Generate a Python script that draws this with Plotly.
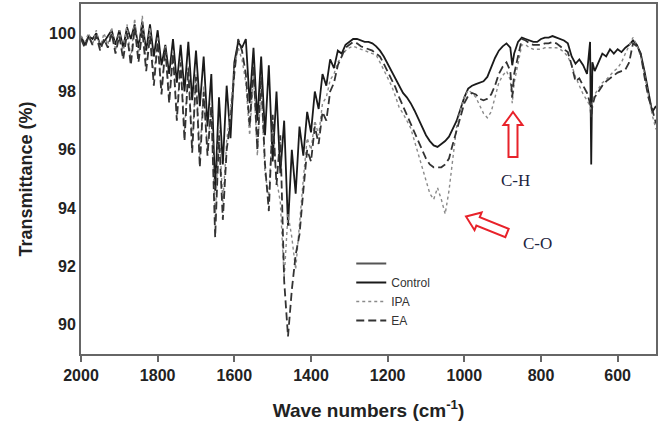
import plotly.graph_objects as go

# ---------------- data ----------------
wavenumber = (list(range(2000, 885, -10)) + [880, 875, 870] +
              list(range(860, 675, -10)) + [672, 669, 666] +
              list(range(660, 495, -10)))

control = [
    99.9, 99.6, 99.9, 99.8, 100.0, 99.6, 99.7, 99.9, 100.1, 99.6,
    100.1, 99.5, 100.2, 99.8, 100.3, 99.5, 100.4, 99.4, 100.3, 99.2,
    100.1, 98.9, 99.6, 98.6, 99.8, 98.3, 99.6, 98.0, 99.7, 97.7,
    99.4, 97.5, 99.2, 96.8, 98.6, 94.6, 97.8, 95.5, 98.2, 96.4,
    99.0, 99.7, 99.5, 99.8, 97.6, 99.5, 97.0, 99.2, 96.5, 98.9,
    95.6, 98.0, 95.2, 97.0, 93.4, 96.0, 94.5, 96.8, 95.8, 97.3,
    96.6, 98.0, 97.4, 98.6, 98.2, 99.1, 98.8, 99.4, 99.3, 99.6,
    99.7,
    99.8, 99.8, 99.75, 99.7, 99.7, 99.65, 99.55, 99.4, 99.2, 98.95,
    98.7, 98.45, 98.15, 97.95, 97.8, 97.6, 97.35, 97.05, 96.8, 96.5,
    96.3, 96.15, 96.1, 96.2, 96.3, 96.45, 96.7, 97.0, 97.4, 97.8,
    98.1, 98.2, 98.25, 98.3, 98.35, 98.5, 98.85, 99.15, 99.4, 99.55,
    99.65,
    99.5, 98.9, 99.3,
    99.7, 99.85, 99.8, 99.75, 99.7, 99.7, 99.8, 99.85, 99.85, 99.9,
    99.85, 99.8, 99.75, 99.65, 99.2, 98.95, 99.1, 98.9, 98.6,
    99.7, 95.5, 99.0,
    98.7, 99.0, 99.3, 99.2, 99.45, 99.3, 99.45, 99.35, 99.5, 99.6,
    99.75, 99.6, 99.3, 98.7, 98.0, 97.3, 97.5,
]

ipa = [
    99.9, 99.7, 100.0, 99.6, 100.1, 99.5, 100.0, 99.6, 100.2, 99.4,
    100.1, 99.3, 100.3, 99.1, 100.5, 99.2, 100.6, 98.9, 100.2, 98.5,
    99.9, 98.0, 99.6, 97.8, 99.4, 97.2, 99.1, 96.6, 98.9, 96.2,
    98.6, 95.8, 98.2, 96.0, 97.6, 93.6, 96.8, 94.2, 96.3, 97.4,
    98.8, 99.5, 99.1, 98.3, 96.5, 98.6, 95.8, 98.2, 95.2, 94.4,
    97.0, 95.0, 94.2, 91.6, 93.8, 93.0, 91.9, 93.6, 95.0, 96.4,
    96.0, 97.0, 96.5, 97.6, 97.8, 98.4, 98.6, 99.0, 99.2, 99.4,
    99.5,
    99.55, 99.5, 99.45, 99.4, 99.35, 99.3, 99.25, 99.0, 98.75, 98.5,
    98.2, 97.85, 97.45, 97.25, 97.0, 96.75, 96.3, 95.85, 95.4, 94.9,
    94.5, 94.3, 94.7, 94.3, 93.8, 94.6, 95.8, 96.8, 97.4, 97.8,
    98.05, 97.95, 97.8, 97.5, 97.25, 97.1, 97.3, 97.8, 98.3, 98.55,
    98.7,
    98.4, 97.6, 98.3,
    98.9, 99.6, 99.6, 99.5, 99.45, 99.45, 99.45, 99.5, 99.5, 99.5,
    99.5, 99.45, 99.35, 99.2, 98.9, 98.5, 98.2, 97.9, 97.7,
    97.5, 97.3, 97.6,
    97.9, 98.1, 98.3, 98.4, 98.55, 98.7, 98.8, 99.0, 99.3, 99.6,
    99.85, 99.6, 99.2, 98.6, 97.9, 97.2, 96.7,
]

ea = [
    99.8, 99.5, 99.9, 99.6, 99.9, 99.4, 99.8, 99.5, 100.0, 99.3,
    99.9, 99.1, 100.0, 98.9, 100.2, 99.0, 100.1, 98.7, 99.9, 98.2,
    99.7, 97.9, 99.5, 97.6, 99.3, 97.0, 99.0, 96.3, 98.8, 95.9,
    98.5, 95.4, 98.0, 95.8, 97.5, 93.0, 96.5, 93.6, 96.0, 97.0,
    98.6, 99.8, 99.4, 98.6, 96.8, 98.9, 96.0, 98.5, 95.5, 93.9,
    97.2, 94.8, 96.5, 91.5, 89.6, 91.2, 92.4, 93.1, 94.6, 96.0,
    95.6, 96.8, 96.2, 97.3, 97.0, 98.0, 98.3, 98.9, 99.2, 99.5,
    99.6,
    99.7, 99.65, 99.55, 99.5, 99.45, 99.4, 99.3, 99.2, 98.95, 98.7,
    98.4, 98.15, 97.8, 97.5, 97.2, 96.9, 96.6, 96.25, 95.95, 95.7,
    95.5, 95.4, 95.4, 95.4, 95.5, 95.7, 96.2, 96.7, 97.2, 97.6,
    97.85, 97.95, 97.9, 97.75, 97.7, 97.75, 97.9, 98.2, 98.6, 98.85,
    99.0,
    98.7, 97.8, 98.6,
    99.2, 99.8, 99.75, 99.65, 99.6, 99.6, 99.6, 99.65, 99.65, 99.7,
    99.65, 99.55, 99.45, 99.35, 98.9, 98.35, 98.45, 98.2, 97.95,
    97.6, 97.1, 97.5,
    97.8, 98.0, 98.2, 98.35, 98.45, 98.55, 98.65, 98.7, 98.75, 99.0,
    99.65, 99.55, 99.3, 98.5, 97.8, 97.4, 96.9,
]

x_ticks = [2000, 1800, 1600, 1400, 1200, 1000, 800, 600]
y_ticks = [90, 92, 94, 96, 98, 100]

# ---------------- layout helpers ----------------
W, H = 661, 425
L, R, T, B = 81, 5, 4, 71
PW, PH = W - L - R, H - T - B


def px2paper(px, py):
    return (px - L) / PW, (H - B - py) / PH


def poly_path(points):
    pts = [px2paper(*p) for p in points]
    return "M " + " L ".join(f"{x:.5f},{y:.5f}" for x, y in pts) + " Z"


def arrow_points(tip, tail, head_len=13, head_hw=9.5, shaft_hw=4.5):
    dx, dy = tip[0] - tail[0], tip[1] - tail[1]
    n = (dx * dx + dy * dy) ** 0.5
    ux, uy = dx / n, dy / n
    nx, ny = -uy, ux
    bx, by = tip[0] - head_len * ux, tip[1] - head_len * uy
    return [
        tip,
        (bx + head_hw * nx, by + head_hw * ny),
        (bx + shaft_hw * nx, by + shaft_hw * ny),
        (tail[0] + shaft_hw * nx, tail[1] + shaft_hw * ny),
        (tail[0] - shaft_hw * nx, tail[1] - shaft_hw * ny),
        (bx - shaft_hw * nx, by - shaft_hw * ny),
        (bx - head_hw * nx, by - head_hw * ny),
    ]


fig = go.Figure()
fig.add_trace(go.Scatter(x=[None], y=[None], mode="lines", name=" ",
                         line=dict(color="#555555", width=2)))
fig.add_trace(go.Scatter(x=wavenumber, y=control, mode="lines", name="Control",
                         line=dict(color="#1a1a1a", width=1.8)))
fig.add_trace(go.Scatter(x=wavenumber, y=ipa, mode="lines", name="IPA",
                         line=dict(color="#8a8a8a", width=1.4, dash="dot")))
fig.add_trace(go.Scatter(x=wavenumber, y=ea, mode="lines", name="EA",
                         line=dict(color="#333333", width=1.8, dash="8px,4px")))

tick_font = dict(family="Liberation Sans, Arial", size=16, color="#222222",
                 weight="bold")
title_font = dict(family="Liberation Sans, Arial", size=19, color="#222222",
                  weight="bold")
axis_common = dict(showline=True, linecolor="#666666", linewidth=2, mirror=True,
                   showgrid=False, zeroline=False, automargin=False,
                   tickfont=tick_font)

fig.update_layout(
    width=W, height=H,
    margin=dict(l=L, r=R, t=T, b=B),
    paper_bgcolor="white", plot_bgcolor="white",
    xaxis=dict(range=[2000, 500], tickvals=x_ticks, ticks="outside", ticklen=6,
               tickwidth=2, tickcolor="#666666", **axis_common,
               title=dict(text="Wave numbers (cm<sup>-1</sup>)", standoff=20,
                          font=title_font)),
    yaxis=dict(range=[89, 101], tickvals=y_ticks, ticks="", ticklabelstandoff=0,
               **axis_common,
               title=dict(text="Transmittance (%)", standoff=12,
                          font=dict(title_font, size=18))),
    showlegend=True,
    legend=dict(x=0.47, y=0.30, xanchor="left", yanchor="top",
                bgcolor="rgba(0,0,0,0)",
                font=dict(family="Liberation Sans, Arial", size=12, color="#333333"),
                tracegroupgap=0),
)

up_arrow = arrow_points(tip=(513, 112), tail=(513, 157))
co_arrow = arrow_points(tip=(466, 216.5), tail=(507, 233))
for pts in (up_arrow, co_arrow):
    fig.add_shape(type="path", xref="paper", yref="paper", path=poly_path(pts),
                  line=dict(color="#e8222a", width=2), fillcolor="white")

for label, (px, py) in (("C-H", (515, 180)), ("C-O", (537, 243))):
    ax, ay = px2paper(px, py)
    fig.add_annotation(x=ax, y=ay, xref="paper", yref="paper", text=label,
                       showarrow=False, xanchor="center", yanchor="middle",
                       font=dict(family="Liberation Serif, Times New Roman",
                                 size=17, color="#1c2440"))

fig.write_html("out.html", config={"displayModeBar": False},
               post_script="document.body.style.margin='0px';"
                           "document.body.style.overflow='hidden';")
